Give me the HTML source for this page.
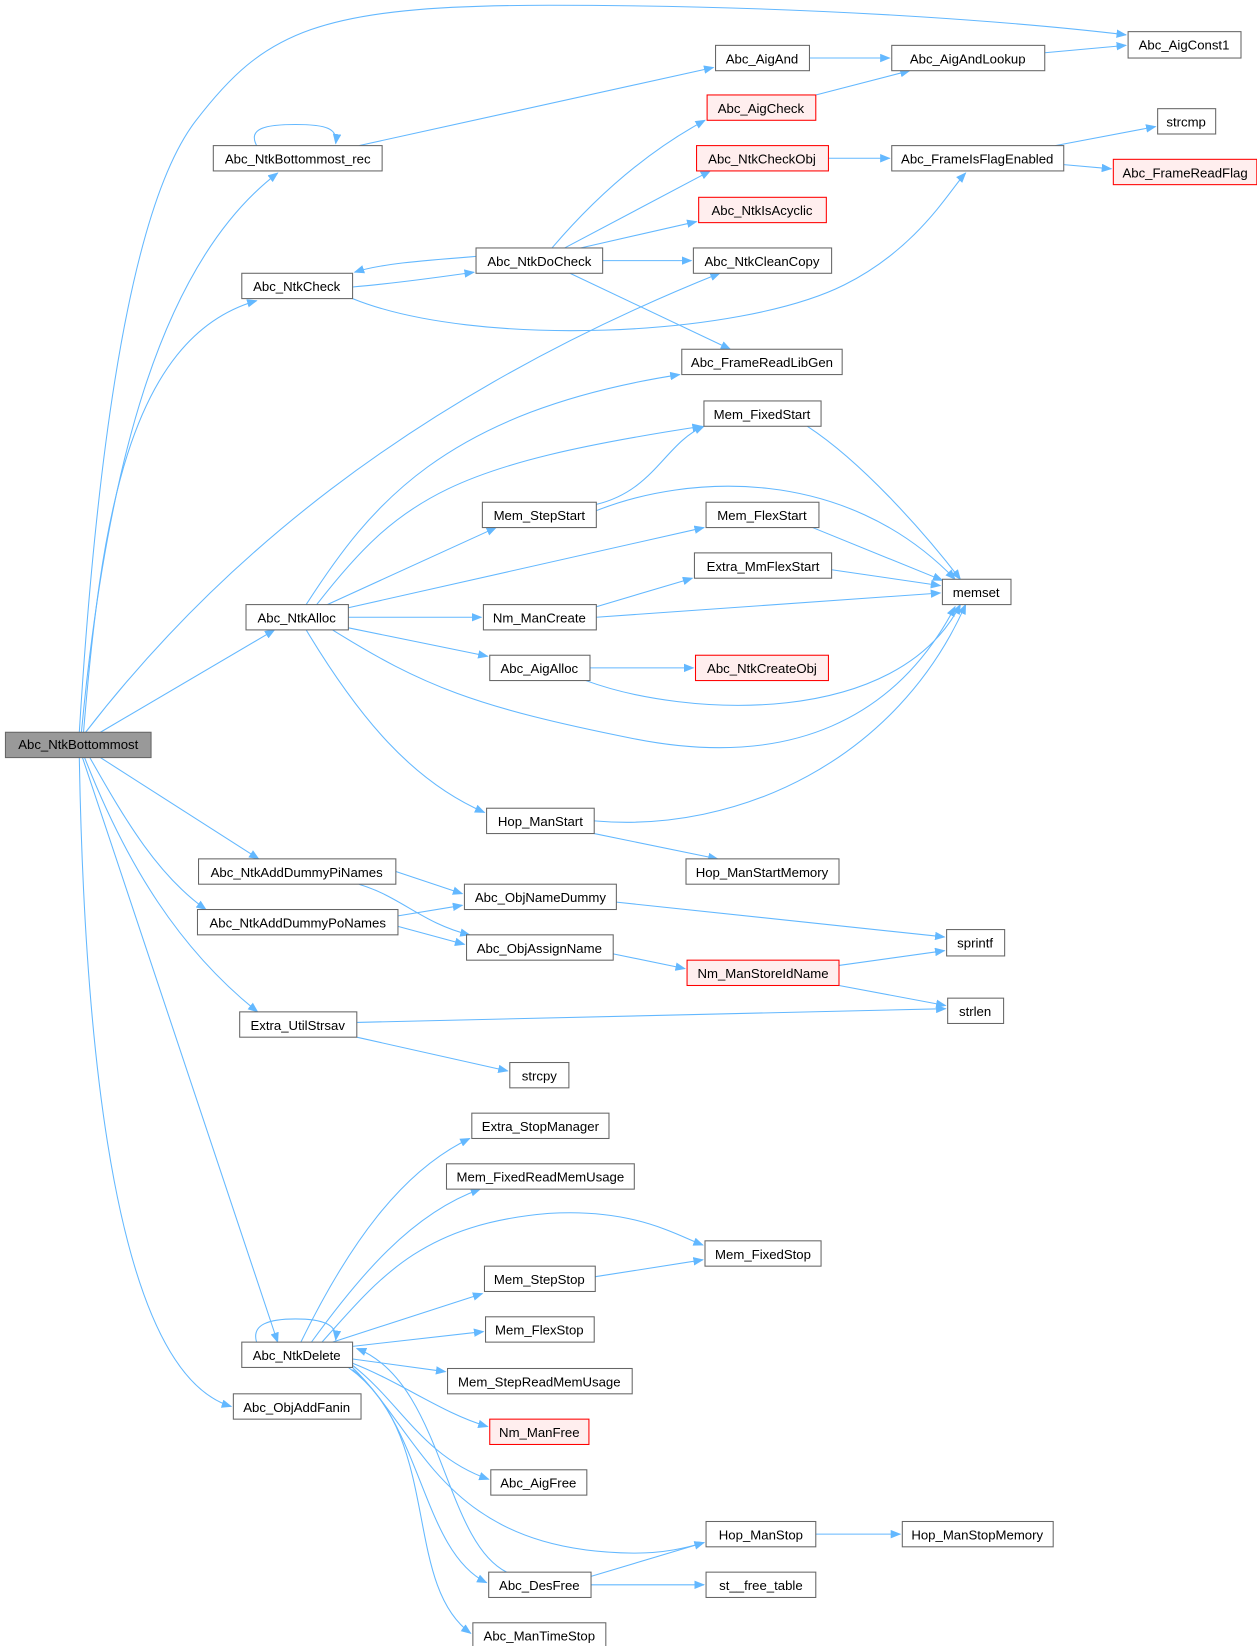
<!DOCTYPE html>
<html><head><meta charset="utf-8"><style>
html,body{margin:0;padding:0;background:#fff;}
svg text{font-family:"Liberation Sans",Arial,sans-serif;font-size:12.5px;fill:#000;}
</style></head><body>
<svg width="1257" height="1646" viewBox="0 0 1191 1560" xmlns="http://www.w3.org/2000/svg">
<defs><marker id="a" markerWidth="10" markerHeight="8" refX="9" refY="4" orient="auto" markerUnits="userSpaceOnUse"><path d="M0,0 L10,4 L0,8 z" fill="#63b8ff"/></marker></defs>
<g fill="none" stroke="#63b8ff" stroke-width="1" marker-end="url(#a)">
<path d="M75,694 C90,450 120,200 185,115 C250,30 300,5 520,5 C800,5 1000,25 1067,33"/>
<path d="M77,694 C100,450 150,250 263,164"/>
<path d="M243,138 C235,122 250,118 280,118 C310,118 320,122 318,136"/>
<path d="M340,138 L676,64"/>
<path d="M767,55 L843,55"/>
<path d="M990,50 L1067,43"/>
<path d="M773,90 L862,67"/>
<path d="M79,694 C95,500 120,320 243,285"/>
<path d="M334,272 C380,268 420,262 449,258"/>
<path d="M451,243 C400,247 360,250 336,258"/>
<path d="M334,283 C450,330 700,320 800,270 C870,235 900,180 915,164"/>
<path d="M523,235 C570,180 620,140 668,114"/>
<path d="M535,235 L673,162"/>
<path d="M550,235 L660,210"/>
<path d="M571,247 L655,247"/>
<path d="M540,259 L692,331"/>
<path d="M785,150 L843,150"/>
<path d="M1000,138 L1095,120"/>
<path d="M1008,156 L1053,160"/>
<path d="M81,694 C200,540 380,380 682,259"/>
<path d="M290,573 C350,480 420,390 644,355"/>
<path d="M300,573 C380,470 430,440 665,404"/>
<path d="M310,573 L470,500"/>
<path d="M330,576 L667,500"/>
<path d="M330,585 L456,585"/>
<path d="M330,595 L462,622"/>
<path d="M315,597 C400,650 450,670 600,700 C750,730 850,680 905,575"/>
<path d="M290,597 C340,680 390,740 459,770"/>
<path d="M565,478 C620,465 630,420 667,404"/>
<path d="M565,484 C650,450 800,440 905,549"/>
<path d="M765,404 C820,440 880,510 910,549"/>
<path d="M770,500 L893,550"/>
<path d="M788,540 L891,555"/>
<path d="M565,575 L656,548"/>
<path d="M565,585 L891,562"/>
<path d="M559,633 L657,633"/>
<path d="M555,645 C650,680 850,690 910,573"/>
<path d="M563,778 C700,790 850,720 915,573"/>
<path d="M563,790 L680,814"/>
<path d="M95,694 L260,597"/>
<path d="M95,718 L245,814"/>
<path d="M85,718 C120,780 150,830 195,862"/>
<path d="M80,718 C120,820 170,900 244,959"/>
<path d="M78,718 L263,1272"/>
<path d="M75,718 C80,1000 110,1300 219,1333"/>
<path d="M375,826 L438,847"/>
<path d="M340,838 C380,850 400,875 445,886"/>
<path d="M377,868 L438,858"/>
<path d="M377,878 L440,895"/>
<path d="M584,855 L895,888"/>
<path d="M581,904 L649,918"/>
<path d="M795,915 L895,901"/>
<path d="M795,934 L896,953"/>
<path d="M338,969 L896,956"/>
<path d="M338,983 L481,1015"/>
<path d="M285,1272 C330,1180 380,1110 445,1079"/>
<path d="M295,1272 C340,1210 390,1150 455,1127"/>
<path d="M305,1272 C360,1210 400,1160 520,1150 C600,1145 640,1170 666,1180"/>
<path d="M315,1272 L457,1226"/>
<path d="M564,1210 L666,1194"/>
<path d="M334,1276 L458,1262"/>
<path d="M334,1288 L422,1300"/>
<path d="M334,1292 C380,1310 420,1340 462,1352"/>
<path d="M334,1294 C380,1330 400,1380 463,1402"/>
<path d="M334,1296 C400,1360 420,1470 600,1472 C630,1472 650,1467 667,1462"/>
<path d="M334,1298 C400,1350 400,1470 461,1500"/>
<path d="M330,1296 C420,1360 380,1500 446,1548"/>
<path d="M480,1490 C420,1460 420,1310 338,1278"/>
<path d="M560,1494 L667,1462"/>
<path d="M560,1502 L667,1502"/>
<path d="M773,1454 L853,1454"/>
<path d="M243,1272 C238,1255 255,1250 280,1250 C305,1250 320,1255 318,1270"/>
</g>
<g stroke-width="1">
<g stroke="#666" fill="#fff">
<rect x="5" y="694" width="138" height="24" fill="#999"/>
<rect x="1069" y="30" width="107" height="25"/>
<rect x="678" y="43" width="89" height="24"/>
<rect x="845" y="43" width="145" height="24"/>
<rect x="202" y="138" width="160" height="24"/>
<rect x="1097" y="103" width="55" height="24"/>
<rect x="845" y="138" width="163" height="24"/>
<rect x="451" y="235" width="120" height="24"/>
<rect x="657" y="235" width="131" height="24"/>
<rect x="229" y="259" width="105" height="24"/>
<rect x="646" y="331" width="152" height="24"/>
<rect x="667" y="380" width="111" height="24"/>
<rect x="457" y="476" width="108" height="24"/>
<rect x="669" y="476" width="107" height="24"/>
<rect x="658" y="524" width="130" height="24"/>
<rect x="893" y="549" width="65" height="24"/>
<rect x="233" y="573" width="97" height="24"/>
<rect x="458" y="573" width="107" height="24"/>
<rect x="464" y="621" width="95" height="24"/>
<rect x="461" y="766" width="102" height="24"/>
<rect x="650" y="814" width="145" height="24"/>
<rect x="188" y="814" width="187" height="24"/>
<rect x="440" y="838" width="144" height="24"/>
<rect x="187" y="862" width="190" height="24"/>
<rect x="897" y="881" width="55" height="25"/>
<rect x="442" y="886" width="139" height="24"/>
<rect x="898" y="946" width="53" height="24"/>
<rect x="227" y="959" width="111" height="24"/>
<rect x="483" y="1007" width="56" height="24"/>
<rect x="447" y="1055" width="130" height="24"/>
<rect x="423" y="1103" width="178" height="24"/>
<rect x="668" y="1176" width="110" height="24"/>
<rect x="459" y="1200" width="105" height="24"/>
<rect x="229" y="1272" width="105" height="24"/>
<rect x="460" y="1248" width="103" height="24"/>
<rect x="424" y="1297" width="175" height="24"/>
<rect x="221" y="1321" width="121" height="24"/>
<rect x="465" y="1393" width="91" height="24"/>
<rect x="669" y="1442" width="104" height="24"/>
<rect x="855" y="1442" width="143" height="24"/>
<rect x="463" y="1490" width="97" height="24"/>
<rect x="669" y="1490" width="104" height="24"/>
<rect x="448" y="1538" width="126" height="24"/>
</g>
<g stroke="#f00" fill="#fee">
<rect x="670" y="90" width="103" height="24"/>
<rect x="660" y="138" width="125" height="24"/>
<rect x="1055" y="151" width="136" height="24"/>
<rect x="662" y="187" width="121" height="24"/>
<rect x="659" y="621" width="126" height="24"/>
<rect x="651" y="910" width="144" height="24"/>
<rect x="464" y="1345" width="94" height="24"/>
</g>
</g>
<g text-anchor="middle">
<text x="74" y="710">Abc_NtkBottommost</text>
<text x="1122" y="47">Abc_AigConst1</text>
<text x="722" y="60">Abc_AigAnd</text>
<text x="917" y="60">Abc_AigAndLookup</text>
<text x="282" y="155">Abc_NtkBottommost_rec</text>
<text x="721" y="107">Abc_AigCheck</text>
<text x="1124" y="120">strcmp</text>
<text x="722" y="155">Abc_NtkCheckObj</text>
<text x="926" y="155">Abc_FrameIsFlagEnabled</text>
<text x="1123" y="168">Abc_FrameReadFlag</text>
<text x="722" y="204">Abc_NtkIsAcyclic</text>
<text x="511" y="252">Abc_NtkDoCheck</text>
<text x="722" y="252">Abc_NtkCleanCopy</text>
<text x="281" y="276">Abc_NtkCheck</text>
<text x="722" y="348">Abc_FrameReadLibGen</text>
<text x="722" y="397">Mem_FixedStart</text>
<text x="511" y="493">Mem_StepStart</text>
<text x="722" y="493">Mem_FlexStart</text>
<text x="723" y="541">Extra_MmFlexStart</text>
<text x="925" y="566">memset</text>
<text x="281" y="590">Abc_NtkAlloc</text>
<text x="511" y="590">Nm_ManCreate</text>
<text x="511" y="638">Abc_AigAlloc</text>
<text x="722" y="638">Abc_NtkCreateObj</text>
<text x="512" y="783">Hop_ManStart</text>
<text x="722" y="831">Hop_ManStartMemory</text>
<text x="281" y="831">Abc_NtkAddDummyPiNames</text>
<text x="512" y="855">Abc_ObjNameDummy</text>
<text x="282" y="879">Abc_NtkAddDummyPoNames</text>
<text x="924" y="898">sprintf</text>
<text x="511" y="903">Abc_ObjAssignName</text>
<text x="723" y="927">Nm_ManStoreIdName</text>
<text x="924" y="963">strlen</text>
<text x="282" y="976">Extra_UtilStrsav</text>
<text x="511" y="1024">strcpy</text>
<text x="512" y="1072">Extra_StopManager</text>
<text x="512" y="1120">Mem_FixedReadMemUsage</text>
<text x="723" y="1193">Mem_FixedStop</text>
<text x="511" y="1217">Mem_StepStop</text>
<text x="281" y="1289">Abc_NtkDelete</text>
<text x="511" y="1265">Mem_FlexStop</text>
<text x="511" y="1314">Mem_StepReadMemUsage</text>
<text x="281" y="1338">Abc_ObjAddFanin</text>
<text x="511" y="1362">Nm_ManFree</text>
<text x="510" y="1410">Abc_AigFree</text>
<text x="721" y="1459">Hop_ManStop</text>
<text x="926" y="1459">Hop_ManStopMemory</text>
<text x="511" y="1507">Abc_DesFree</text>
<text x="721" y="1507">st__free_table</text>
<text x="511" y="1555">Abc_ManTimeStop</text>
</g>
</svg>
</body></html>
